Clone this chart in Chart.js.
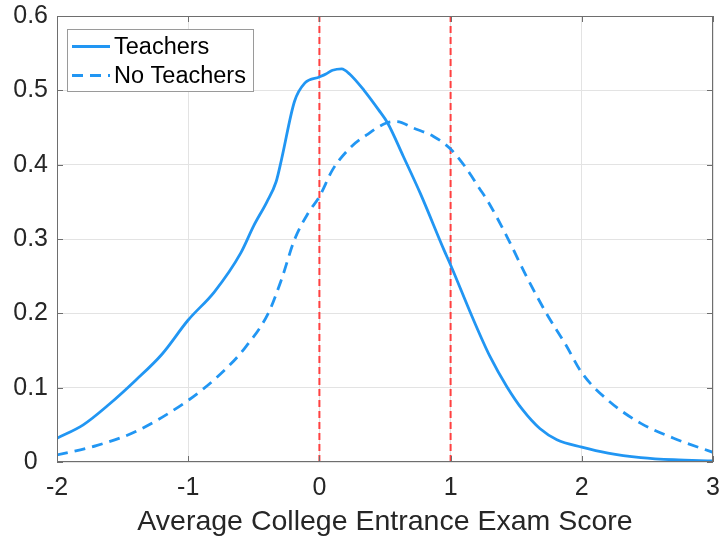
<!DOCTYPE html>
<html>
<head>
<meta charset="utf-8">
<script src="https://cdn.jsdelivr.net/npm/chart.js@4.4.1/dist/chart.umd.min.js"></script>
<style>
  html, body { margin: 0; padding: 0; background: #ffffff; }
  #wrap { width: 720px; height: 540px; }
</style>
</head>
<body>
<div id="wrap"><canvas id="c" width="720" height="540"></canvas></div>
<script>
// ---- Data ----
const teachersX = [-2.0, -1.8, -1.6, -1.4, -1.2, -1.0, -0.8, -0.6, -0.5, -0.4, -0.33, -0.29, -0.19, -0.11, 0.0, 0.05, 0.1, 0.17, 0.23, 0.34, 0.45, 0.52, 0.64, 0.77, 0.95, 1.0, 1.17, 1.3, 1.43, 1.55, 1.68, 1.81, 2.0, 2.2, 2.45, 2.7, 3.0];
const teachersY = [0.032, 0.050, 0.078, 0.110, 0.145, 0.191, 0.229, 0.281, 0.318, 0.350, 0.377, 0.406, 0.485, 0.510, 0.518, 0.522, 0.527, 0.529, 0.522, 0.500, 0.474, 0.456, 0.411, 0.361, 0.285, 0.265, 0.193, 0.142, 0.101, 0.070, 0.045, 0.030, 0.020, 0.012, 0.006, 0.003, 0.0015];

const noTeachersX = [-2.0, -1.7, -1.4, -1.0, -0.75, -0.57, -0.39, -0.29, -0.19, -0.085, 0.0, 0.1, 0.23, 0.36, 0.51, 0.59, 0.72, 0.87, 1.0, 1.12, 1.22, 1.28, 1.43, 1.58, 1.73, 1.88, 2.0, 2.2, 2.45, 2.7, 3.0];
const noTeachersY = [0.0094, 0.022, 0.041, 0.083, 0.119, 0.153, 0.200, 0.245, 0.299, 0.335, 0.357, 0.393, 0.422, 0.440, 0.456, 0.458, 0.449, 0.438, 0.421, 0.395, 0.368, 0.352, 0.303, 0.249, 0.200, 0.157, 0.120, 0.083, 0.052, 0.032, 0.013];

const seriesLabels = ["Teachers", "No Teachers"];
const refLinesX = [0, 1];
const xTicks = [-2, -1, 0, 1, 2, 3];
const yTicks = [0, 0.1, 0.2, 0.3, 0.4, 0.5, 0.6];
const xTitle = "Average College Entrance Exam Score";

// ---- Build datasets ----
const FONT = "'Liberation Sans', Arial, Helvetica, sans-serif";
const BLUE = "rgb(33,150,243)";
const RED = "rgb(255,64,64)";

const toPts = (xs, ys) => xs.map((x, i) => ({ x: x, y: ys[i] }));

const datasets = [
  {
    label: seriesLabels[0],
    data: toPts(teachersX, teachersY),
    borderColor: BLUE,
    borderWidth: 2.8,
    pointRadius: 0,
    cubicInterpolationMode: 'monotone',
    fill: false,
    order: 1
  },
  {
    label: seriesLabels[1],
    data: toPts(noTeachersX, noTeachersY),
    borderColor: BLUE,
    borderWidth: 2.8,
    borderDash: [11, 7],
    pointRadius: 0,
    cubicInterpolationMode: 'monotone',
    fill: false,
    order: 2
  }
];
refLinesX.forEach(v => {
  datasets.push({
    label: "ref" + v,
    data: [{ x: v, y: yTicks[0] }, { x: v, y: yTicks[yTicks.length - 1] }],
    borderColor: RED,
    borderWidth: 2,
    borderDash: [7, 4],
    pointRadius: 0,
    fill: false,
    order: 3
  });
});

// ---- Plugins: box with inward ticks, and legend inside plot ----
const boxPlugin = {
  id: 'boxPlugin',
  afterDatasetsDraw(chart) {
    const ctx = chart.ctx;
    const a = chart.chartArea;
    const xs = chart.scales.x, ys = chart.scales.y;
    ctx.save();
    ctx.strokeStyle = '#6e6e6e';
    ctx.lineWidth = 1;
    ctx.setLineDash([]);
    ctx.strokeRect(Math.round(a.left) + 0.5, Math.round(a.top) + 0.5,
                   Math.round(a.right - a.left) - 1, Math.round(a.bottom - a.top) - 1);
    const tl = 6;
    ctx.beginPath();
    xTicks.forEach(v => {
      const px = Math.round(xs.getPixelForValue(v)) + 0.5;
      ctx.moveTo(px, a.bottom); ctx.lineTo(px, a.bottom - tl);
      ctx.moveTo(px, a.top); ctx.lineTo(px, a.top + tl);
    });
    yTicks.forEach(v => {
      const py = Math.round(ys.getPixelForValue(v)) + 0.5;
      ctx.moveTo(a.left, py); ctx.lineTo(a.left + tl, py);
      ctx.moveTo(a.right, py); ctx.lineTo(a.right - tl, py);
    });
    ctx.stroke();
    ctx.restore();
  },
  afterDraw(chart) {
    const ctx = chart.ctx;
    const a = chart.chartArea;
    const bx = a.left + 10, by = a.top + 13, bw = 186, bh = 62;
    ctx.save();
    ctx.fillStyle = '#ffffff';
    ctx.fillRect(bx, by, bw, bh);
    ctx.strokeStyle = '#9a9a9a';
    ctx.lineWidth = 1;
    ctx.strokeRect(Math.round(bx) + 0.5, Math.round(by) + 0.5, bw, bh);
    ctx.font = "23.5px " + FONT;
    ctx.textBaseline = 'middle';
    ctx.textAlign = 'left';
    const rows = [by + 17.5, by + 46.5];
    [0, 1].forEach(i => {
      const ds = chart.data.datasets[i];
      ctx.strokeStyle = ds.borderColor;
      ctx.lineWidth = ds.borderWidth;
      ctx.setLineDash(ds.borderDash || []);
      ctx.beginPath();
      ctx.moveTo(bx + 5, rows[i]);
      ctx.lineTo(bx + 43, rows[i]);
      ctx.stroke();
      ctx.setLineDash([]);
      ctx.fillStyle = '#000000';
      ctx.fillText(ds.label, bx + 47, rows[i] + 1);
    });
    ctx.restore();
  }
};

new Chart(document.getElementById('c'), {
  type: 'line',
  data: { datasets: datasets },
  options: {
    responsive: false,
    animation: false,
    devicePixelRatio: 1,
    layout: { padding: { top: 16, right: 7, left: 0, bottom: 0 } },
    plugins: {
      legend: { display: false },
      tooltip: { enabled: false },
      title: { display: false }
    },
    scales: {
      x: {
        type: 'linear',
        min: xTicks[0],
        max: xTicks[xTicks.length - 1],
        afterBuildTicks(scale) { scale.ticks = xTicks.map(v => ({ value: v })); },
        afterFit(scale) {
          scale.height = 78;
          scale.paddingLeft = 0; scale.paddingRight = 0;
          scale.paddingTop = 0; scale.paddingBottom = 0;
        },
        grid: { color: '#e3e3e3', lineWidth: 1, drawTicks: false },
        border: { display: false },
        ticks: {
          padding: 11,
          color: '#262626',
          font: { family: FONT, size: 25 },
          maxRotation: 0,
          callback: v => String(v)
        },
        title: {
          display: true,
          text: xTitle,
          color: '#262626',
          font: { family: FONT, size: 28.5 },
          padding: { top: 0, bottom: 1 }
        }
      },
      y: {
        type: 'linear',
        min: yTicks[0],
        max: yTicks[yTicks.length - 1],
        afterBuildTicks(scale) { scale.ticks = yTicks.map(v => ({ value: v })); },
        afterFit(scale) {
          scale.width = 57;
          scale.paddingLeft = 0; scale.paddingRight = 0;
          scale.paddingTop = 0; scale.paddingBottom = 0;
        },
        grid: { color: '#e3e3e3', lineWidth: 1, drawTicks: false },
        border: { display: false },
        ticks: {
          padding: 9,
          crossAlign: 'center',
          color: '#262626',
          font: { family: FONT, size: 25 },
          callback: v => String(Math.round(v * 10) / 10)
        }
      }
    }
  },
  plugins: [boxPlugin]
});
</script>
</body>
</html>
